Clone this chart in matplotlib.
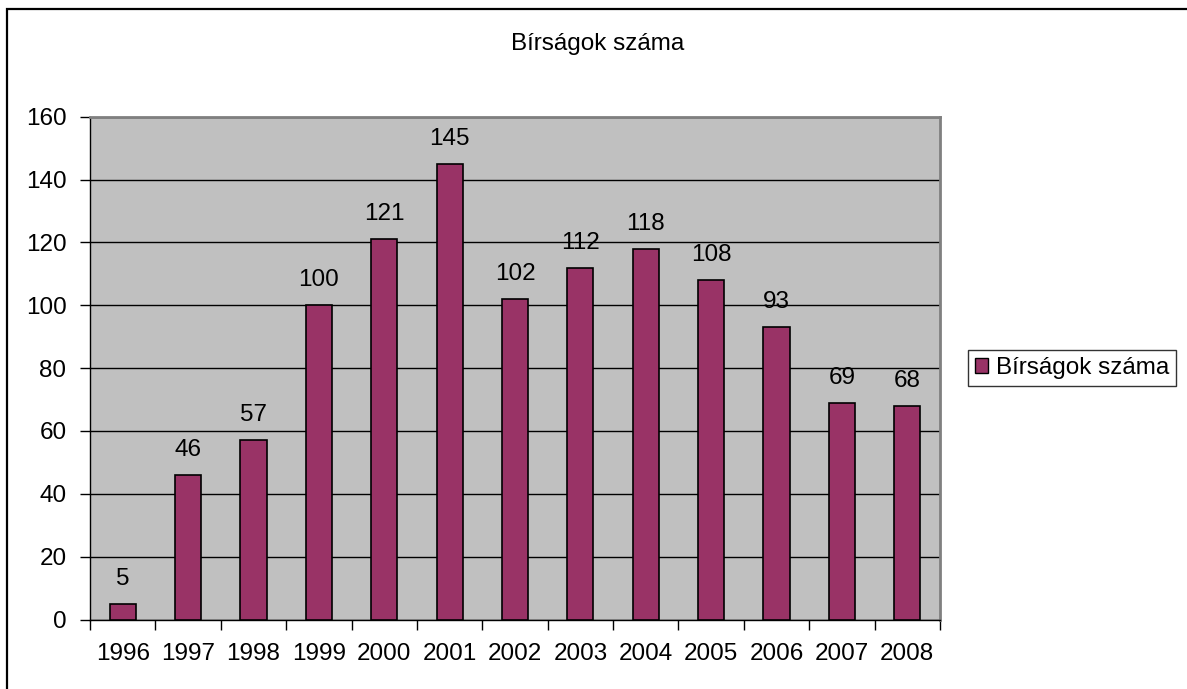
import matplotlib
matplotlib.use("Agg")
import matplotlib.pyplot as plt
from matplotlib.patches import Rectangle, Patch

years = ["1996", "1997", "1998", "1999", "2000", "2001", "2002",
         "2003", "2004", "2005", "2006", "2007", "2008"]
fines = [5, 46, 57, 100, 121, 145, 102, 112, 118, 108, 93, 69, 68]
series_name = "Bírságok száma"
title = "Bírságok száma"
yticks = [0, 20, 40, 60, 80, 100, 120, 140, 160]

plt.rcParams['font.family'] = ['Liberation Sans', 'DejaVu Sans']
FS = 17.5
W, H = 1187, 689
fig = plt.figure(figsize=(W / 100, H / 100), dpi=100)
fig.patch.set_facecolor("white")

# outer chart border
fig.add_artist(Rectangle((6.5 / W, -0.01), 1.02, 1 - 9 / H + 0.01,
                         transform=fig.transFigure, fill=False,
                         edgecolor="black", linewidth=1.6))

ax = fig.add_axes([90 / W, 1 - 619.5 / H, (940 - 90) / W, (619.5 - 116.7) / H])
ax.set_facecolor("#c0c0c0")
x = list(range(len(years)))
bars = ax.bar(x, fines, width=0.4, color="#993366", edgecolor="black",
              linewidth=1.2, zorder=3)
ax.set_xlim(-0.5, len(years) - 0.5)
ax.set_ylim(0, 160)
ax.set_yticks(yticks)
ax.set_yticklabels([str(v) for v in yticks], fontsize=FS)
ax.yaxis.grid(True, color="black", linewidth=1.0, zorder=1)
ax.set_axisbelow(True)

ax.set_xticks(x)
ax.set_xticklabels(years, fontsize=FS)
ax.set_xticks([i - 0.5 for i in range(len(years) + 1)], minor=True)
ax.tick_params(axis='x', which='major', length=0, pad=17)
ax.tick_params(axis='x', which='minor', length=7, width=1, direction='out')
ax.tick_params(axis='y', length=7, width=1, direction='out', pad=10)

for s in ("top", "right"):
    ax.spines[s].set_color("#808080")
    ax.spines[s].set_linewidth(2)
for s in ("left", "bottom"):
    ax.spines[s].set_color("black")
    ax.spines[s].set_linewidth(1)

for xi, v in zip(x, fines):
    ax.annotate(str(v), (xi, v), xytext=(0, 14), textcoords="offset pixels",
                ha="center", va="bottom", fontsize=FS)

fig.text(598 / W, 1 - 44 / H, title, ha="center", va="center", fontsize=FS)

handle = Patch(facecolor="#993366", edgecolor="black", linewidth=1)
leg = fig.legend([handle], [series_name], loc="center",
                 bbox_to_anchor=(1072 / W, 1 - 368 / H), fontsize=FS,
                 frameon=True, fancybox=False, edgecolor="black",
                 handlelength=0.55, handleheight=0.55, handletextpad=0.3,
                 borderpad=0.3, borderaxespad=0)
leg.get_frame().set_linewidth(1)

fig.savefig("out.png", dpi=100, facecolor="white")
